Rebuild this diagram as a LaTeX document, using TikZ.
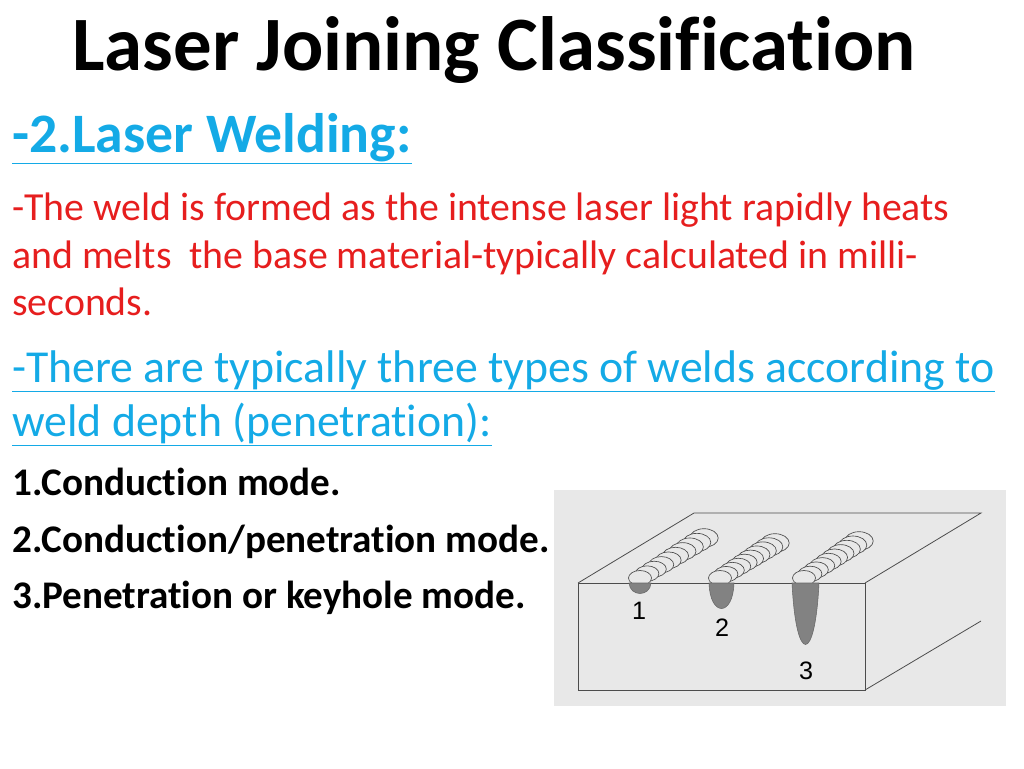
\documentclass[tikz,border=0pt]{standalone}
\usepackage{fontspec}
\setmainfont{Carlito}[Ligatures=NoCommon]
\newfontfamily\labelfont{Liberation Sans}
\usetikzlibrary{positioning}
\definecolor{slidered}{RGB}{230,30,30}
\definecolor{slidecyan}{RGB}{20,170,230}
\definecolor{panelgray}{RGB}{232,232,232}
\definecolor{poolgray}{RGB}{130,130,130}

\begin{document}
\begin{tikzpicture}[x=0.0265cm, y=-0.0265cm,
  line/.style={anchor=base west, inner sep=0pt},
  redtext/.style={line, text=slidered, font=\fontsize{30}{34}\selectfont},
  cyantext/.style={line, text=slidecyan, font=\fontsize{34.5}{38}\selectfont},
  boldtext/.style={line, font=\fontsize{29.5}{33}\selectfont\bfseries},
  edge/.style={draw=black!70, line width=0.6pt},
  bead/.style={draw=black!70, fill=panelgray, line width=0.5pt},
  pool/.style={draw=black!60, fill=poolgray, line width=0.4pt},
  digit/.style={font=\labelfont\fontsize{19}{19}\selectfont}
]
\useasboundingbox (0,0) rectangle (1024,768);

% Title and text
\node[anchor=base, font=\fontsize{58}{62}\selectfont\bfseries] (title) at (494,70) {Laser Joining Classification};
\node[line, text=slidecyan, font=\fontsize{42}{46}\selectfont\bfseries] (head) at (12,152) {\underline{-2.Laser Welding:}};
\node[redtext] (red1) at (12,220) {-The weld is formed as the intense laser light rapidly heats};
\node[redtext] (red2) at (12,268) {and melts\ \ the base material-typically calculated in milli-};
\node[redtext] (red3) at (12,315) {seconds.};
\node[cyantext] (cyan1) at (12,382) {\underline{-There are typically three types of welds according to}};
\node[cyantext] (cyan2) at (12,436) {\underline{weld depth (penetration):}};
\node[boldtext] (mode1) at (12,495) {1.Conduction mode.};
\node[boldtext] (mode2) at (12,552) {2.Conduction/penetration mode.};
\node[boldtext] (mode3) at (12,608) {3.Penetration or keyhole mode.};

% Figure panel
\fill[panelgray] (554,490) rectangle (1006,706);
\coordinate (fl) at (578,583);
\coordinate (fr) at (865,583);
\coordinate (bl) at (578,690);
\coordinate (br) at (865,690);
\coordinate (tl) at (694,513);
\coordinate (tr) at (981,513);
\coordinate (sr) at (981,621);
\draw[edge] (fl) rectangle (br);
\draw[edge] (fl) -- (tl) -- (tr) -- (fr);
\draw[edge] (br) -- (sr);

% Weld beads, drawn back to front
\foreach \sx/\sy/\ex/\ey in {640/578/704/538, 720/578/775/543, 804/578/859/541} {
  \foreach \k in {9,8,...,0} {
    \draw[bead] ({\sx+(\ex-\sx)*\k/9},{\sy+(\ey-\sy)*\k/9}) ellipse ({11.5+0.3*\k} and {7.5+0.2*\k});
  }
}

% Weld pools
\draw[pool] (629,583) .. controls (630,597) and (650,597) .. (651,583) -- cycle;
\draw[pool] (709,583) .. controls (710,617) and (733,617) .. (734,583) -- cycle;
\draw[pool] (792,583) .. controls (796,665) and (815,665) .. (819,583) -- cycle;

% Labels
\node[digit] (lab1) at (639,611) {1};
\node[digit] (lab2) at (722,628) {2};
\node[digit] (lab3) at (806,671) {3};
\end{tikzpicture}
\end{document}
